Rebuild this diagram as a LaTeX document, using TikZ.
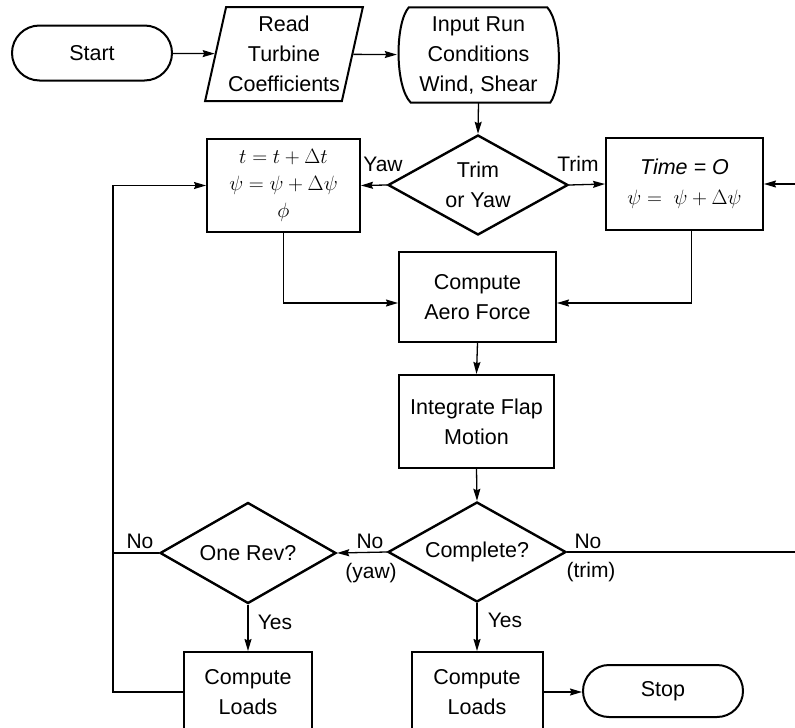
\documentclass[tikz,border=0pt]{standalone}
\usepackage{fontspec}
\setmainfont{Liberation Sans}
\usetikzlibrary{shapes.geometric,shapes.misc,arrows.meta,calc}

\tikzset{
  base/.style={align=center, inner sep=0pt, font=\fontsize{21.5}{30}\selectfont},
  term/.style={base, rounded rectangle, draw, line width=2pt},
  procbox/.style={base, rectangle, draw, line width=2pt},
  iobox/.style={base, trapezium, trapezium left angle=75, trapezium right angle=105,
                trapezium stretches=true, draw, line width=2pt},
  decide/.style={base, diamond, aspect=1.8, draw, line width=2.4pt},
  tag/.style={font=\fontsize{21}{26}\selectfont, inner sep=0pt},
  arr/.style={line width=1.3pt, -{Stealth[length=12pt,width=7pt,inset=1.5pt]}},
  ln/.style={line width=1.3pt}
}

\begin{document}
\begin{tikzpicture}[x=1pt,y=-1pt]
\useasboundingbox (0,0) rectangle (795,728);
\clip (0,0) rectangle (795,728);

% top row
\node[term, minimum width=160pt, minimum height=55pt] (start) at (92,53) {Start};
\node[iobox, minimum width=158pt, minimum height=94pt] (read) at (284,54)
  {Read\\Turbine\\Coefficients};
\node[base, minimum width=163pt, minimum height=95pt] (input) at (478.5,55)
  {Input Run\\Conditions\\Wind, Shear};
% run-condition input outline with bulging sides
\draw[line width=2pt]
  ($(input.north west)+(12,0)$) -- ($(input.north east)+(-13,0)$)
  .. controls ($(input.north east)+(2,16)$) and ($(input.south east)+(2,-16)$)
  .. ($(input.south east)+(-10,0)$)
  -- ($(input.south west)+(14,0)$)
  .. controls ($(input.south west)+(-2,-16)$) and ($(input.north west)+(-2,16)$)
  .. cycle;

% trim / yaw branch
\node[decide, minimum width=180pt, minimum height=100pt] (trimyaw) at (478,185) {Trim\\or Yaw};
\node[procbox, minimum width=153pt, minimum height=93pt] (yaw) at (283.5,185.5)
  {$t = t + \Delta t$\\[-3pt]$\psi = \psi + \Delta\psi$\\[-3pt]$\phi$};
\node[procbox, minimum width=157pt, minimum height=92pt] (trim) at (684.5,184)
  {{\itshape Time = O}\\$\psi = \;\psi + \Delta\psi$};

% main column
\node[procbox, minimum width=157pt, minimum height=90pt] (aero) at (477.5,297) {Compute\\Aero Force};
\node[procbox, minimum width=155pt, minimum height=93pt] (integ) at (476.5,421.5) {Integrate Flap\\Motion};
\node[decide, minimum width=178pt, minimum height=100pt] (complete) at (477,552) {Complete?};
\node[decide, minimum width=176pt, minimum height=101pt] (onerev) at (248,553) {One Rev?};

% bottom row
\node[procbox, minimum width=128pt, minimum height=80pt] (loads1) at (248,692) {Compute\\Loads};
\node[procbox, minimum width=131pt, minimum height=80pt] (loads2) at (477,692) {Compute\\Loads};
\node[term, minimum width=160pt, minimum height=52pt] (stop) at (663,691) {Stop};

% return-line columns
\coordinate (lx) at (113,0);
\coordinate (rx) at (806,0);

% connectors
\draw[arr] (start) -- (read);
\draw[arr] (read) -- (input);
\draw[arr] (input.south) -- (trimyaw.north);
\draw[arr] (trimyaw.west) -- (yaw.east);
\draw[arr] (trimyaw.east) -- (trim.west);
\draw[arr] (yaw.south) |- ([yshift=-6pt]aero.west);
\draw[arr] ([xshift=7pt]trim.south) |- ([yshift=-6pt]aero.east);
\draw[arr] (aero.south) -- (integ.north);
\draw[arr] (integ.south) -- (complete.north);
\draw[arr] (complete.west) -- (onerev.east);
\draw[ln] (onerev.west) -- (lx |- onerev.west);
\draw[arr] (loads1.west) -| (lx |- yaw.west) -- (yaw.west);
\draw[arr] (complete.east) -| (rx |- trim.east) -- (trim.east);
\draw[arr] (onerev.south) -- (loads1.north);
\draw[arr] (complete.south) -- (loads2.north);
\draw[arr] (loads2.east) -- (loads2.east -| stop.west);

% branch labels
\node[tag] (lyaw) at (383,164) {Yaw};
\node[tag] (ltrim) at (578,164) {Trim};
\node[tag] (lno1) at (370,541) {No};
\node[tag] (lyawp) at (371,573) {(yaw)};
\node[tag] (lno2) at (140,541) {No};
\node[tag] (lno3) at (588,541) {No};
\node[tag] (ltrimp) at (591,572) {(trim)};
\node[tag] (lyes1) at (275,622) {Yes};
\node[tag] (lyes2) at (505,620) {Yes};
\end{tikzpicture}
\end{document}
